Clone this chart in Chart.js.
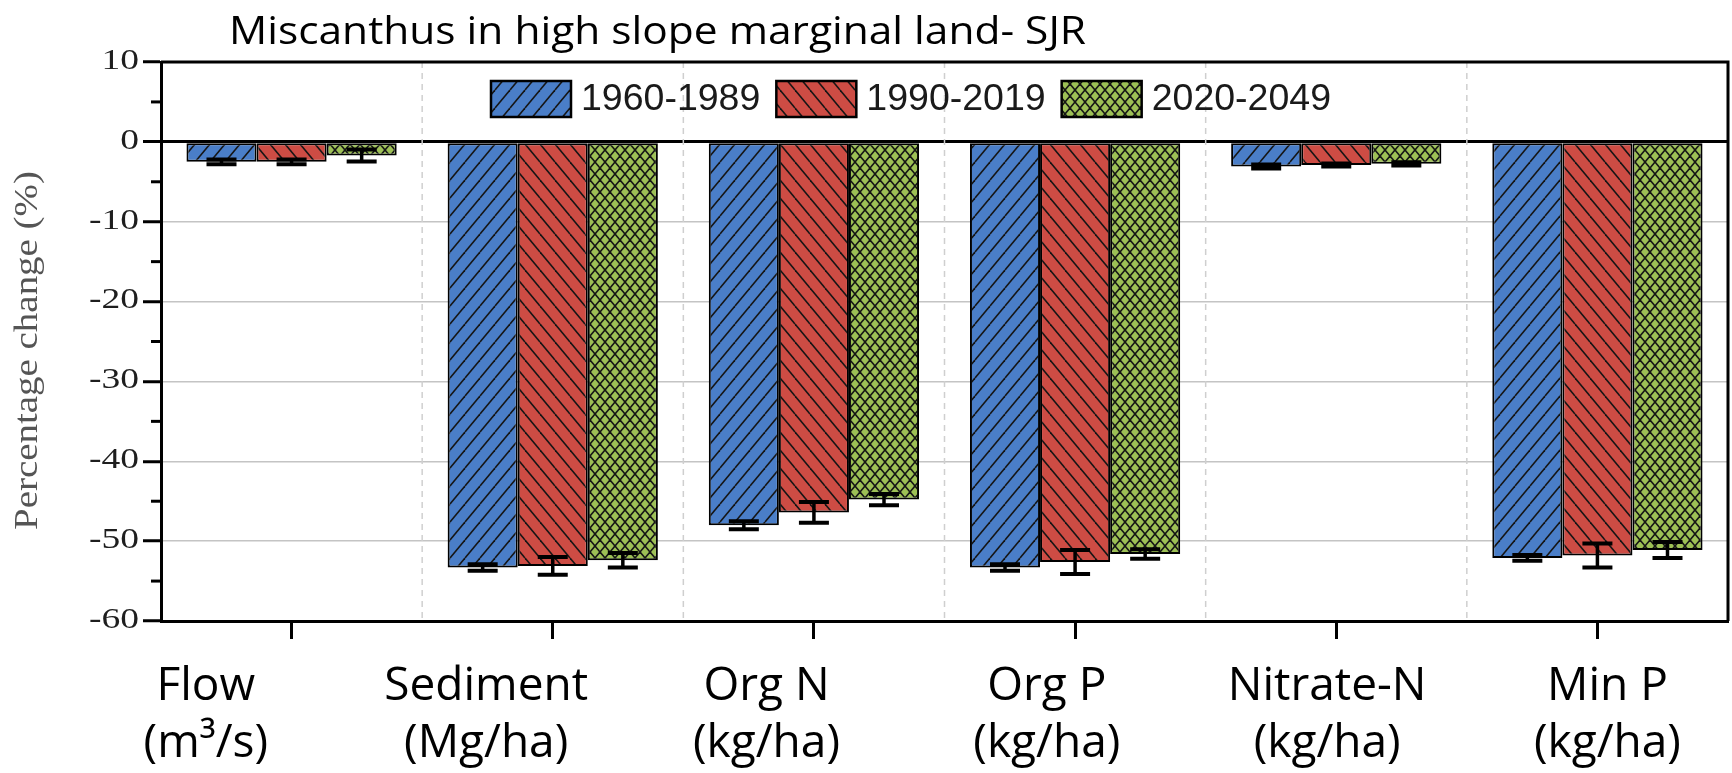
<!DOCTYPE html>
<html>
<head>
<meta charset="utf-8">
<style>
  html, body { margin: 0; padding: 0; background: #fff; }
  #wrap { width: 1732px; height: 773px; position: relative; }
</style>
<script src="https://cdn.jsdelivr.net/npm/chart.js@4.4.1/dist/chart.umd.min.js"></script>
</head>
<body>
<div id="wrap"><canvas id="c" width="1732" height="773"></canvas></div>
<script>
// ---- data ----
const chartTitle = 'Miscanthus in high slope marginal land- SJR';
const yAxisTitle = 'Percentage change (%)';
const categories = [
  ['Flow', '(m³/s)'],
  ['Sediment', '(Mg/ha)'],
  ['Org N', '(kg/ha)'],
  ['Org P', '(kg/ha)'],
  ['Nitrate-N', '(kg/ha)'],
  ['Min P', '(kg/ha)']
];
const periods = ['1960-1989', '1990-2019', '2020-2049'];
const change1960 = [-2.5, -53.3, -48.0, -53.3, -3.1, -52.1];
const change1990 = [-2.5, -53.1, -46.4, -52.6, -2.9, -51.8];
const change2020 = [-1.7, -52.4, -44.8, -51.6, -2.75, -51.1];
const err1960 = [0.3, 0.4, 0.5, 0.4, 0.25, 0.35];
const err1990 = [0.3, 1.1, 1.3, 1.5, 0.2, 1.5];
const err2020 = [0.75, 0.9, 0.7, 0.6, 0.2, 1.0];
const yMin = -60, yMax = 10, yStep = 10, yMinorStep = 5;

// the category captions sit on their own evenly spaced row, a little
// wider-pitched than the bar groups
const captionAxisMin = -0.16, captionAxisMax = 5.43;

// ---- hatch fills ----
const mainCtx = document.getElementById('c').getContext('2d');
function hatch(bg, dirs, w, h) {
  const t = document.createElement('canvas');
  t.width = w; t.height = h;
  const g = t.getContext('2d');
  g.fillStyle = bg; g.fillRect(0, 0, w, h);
  g.strokeStyle = '#161616'; g.lineWidth = 1.6;
  dirs.forEach(d => {
    for (let k = -1; k <= 1; k++) {
      g.beginPath();
      if (d === '/') { g.moveTo(k * w, h); g.lineTo(k * w + w, 0); }
      else { g.moveTo(k * w, 0); g.lineTo(k * w + w, h); }
      g.stroke();
    }
  });
  return mainCtx.createPattern(t, 'repeat');
}
const fillBlue = hatch('#4a7ec8', ['/'], 15, 18);
const fillRed = hatch('#cd4c44', ['\\'], 15, 18);
const fillGreen = hatch('#9dc055', ['/', '\\'], 10, 12);

// ---- plugins ----
const textPlugin = {
  id: 'textLayer',
  afterDraw(chart) {
    const ctx = chart.ctx, a = chart.chartArea, y = chart.scales.y;

    // chart heading, stretched to its set width
    ctx.save();
    ctx.font = '38px "Open Sans"';
    ctx.fillStyle = '#000';
    ctx.textBaseline = 'alphabetic';
    const tw = ctx.measureText(chartTitle).width;
    ctx.translate(a.left + 68, 44);
    ctx.scale(857 / tw, 1);
    ctx.fillText(chartTitle, 0, 0);
    ctx.restore();

    // y tick labels (wide serif digits)
    ctx.save();
    ctx.font = '30px "Liberation Serif"';
    ctx.fillStyle = '#1e1e1e';
    ctx.textAlign = 'right';
    ctx.textBaseline = 'middle';
    y.ticks.forEach(t => {
      const py = y.getPixelForValue(t.value);
      ctx.save();
      ctx.translate(a.left - 22, py - 1);
      ctx.scale(1.25, 1);
      ctx.fillText(String(t.value), 0, 0);
      ctx.restore();
    });
    ctx.restore();

    // rotated y axis title
    ctx.save();
    ctx.font = '33px "Liberation Serif"';
    ctx.fillStyle = '#555';
    const lw = ctx.measureText(yAxisTitle).width;
    ctx.translate(28, (a.top + a.bottom) / 2 + 9);
    ctx.rotate(-Math.PI / 2);
    ctx.scale(359 / lw, 1);
    ctx.textAlign = 'center';
    ctx.textBaseline = 'middle';
    ctx.fillText(yAxisTitle, 0, 0);
    ctx.restore();
  }
};

const separators = {
  id: 'separators',
  beforeDatasetsDraw(chart) {
    const ctx = chart.ctx, x = chart.scales.x, a = chart.chartArea;
    ctx.save();
    ctx.strokeStyle = '#cfcfcf';
    ctx.lineWidth = 1.5;
    ctx.setLineDash([6, 5]);
    for (let i = 0; i < categories.length - 1; i++) {
      const px = (x.getPixelForValue(i) + x.getPixelForValue(i + 1)) / 2;
      ctx.beginPath(); ctx.moveTo(px, a.top); ctx.lineTo(px, a.bottom); ctx.stroke();
    }
    ctx.restore();
  }
};

const errorBars = {
  id: 'errorBars',
  afterDatasetsDraw(chart) {
    const ctx = chart.ctx, y = chart.scales.y;
    ctx.save();
    ctx.strokeStyle = '#000';
    chart.data.datasets.forEach((ds, di) => {
      const meta = chart.getDatasetMeta(di);
      meta.data.forEach((bar, i) => {
        const v = ds.data[i], e = ds.errors[i];
        const y1 = y.getPixelForValue(v + e), y2 = y.getPixelForValue(v - e);
        const cx = bar.x, half = 15;
        ctx.lineWidth = 3.5;
        ctx.beginPath(); ctx.moveTo(cx, y1); ctx.lineTo(cx, y2); ctx.stroke();
        ctx.lineWidth = 4;
        ctx.beginPath();
        ctx.moveTo(cx - half, y1); ctx.lineTo(cx + half, y1);
        ctx.moveTo(cx - half, y2); ctx.lineTo(cx + half, y2);
        ctx.stroke();
      });
    });
    ctx.restore();
  }
};

const frameAndMinor = {
  id: 'frameAndMinor',
  afterDatasetsDraw(chart) {
    const ctx = chart.ctx, a = chart.chartArea, y = chart.scales.y;
    ctx.save();
    ctx.strokeStyle = '#000';
    ctx.lineWidth = 3;
    ctx.beginPath();
    ctx.moveTo(a.left, a.top); ctx.lineTo(a.right, a.top); ctx.lineTo(a.right, a.bottom);
    ctx.stroke();
    for (let v = yMin + yMinorStep; v < yMax; v += yMinorStep) {
      if (v % yStep === 0) continue;
      const py = y.getPixelForValue(v);
      ctx.beginPath(); ctx.moveTo(a.left - 10, py); ctx.lineTo(a.left, py); ctx.stroke();
    }
    ctx.restore();
  }
};

const legendPlugin = {
  id: 'insideLegend',
  afterDatasetsDraw(chart) {
    const ctx = chart.ctx, a = chart.chartArea;
    ctx.save();
    ctx.font = '37.5px "Liberation Sans"';
    ctx.textBaseline = 'middle';
    let x = a.left + 330;
    const top = a.top + 19, bw = 80, bh = 36;
    chart.data.datasets.forEach(ds => {
      ctx.fillStyle = ds.backgroundColor;
      ctx.fillRect(x, top, bw, bh);
      ctx.strokeStyle = '#000'; ctx.lineWidth = 2.5;
      ctx.strokeRect(x, top, bw, bh);
      x += bw + 10;
      ctx.fillStyle = '#1a1a1a';
      ctx.fillText(ds.label, x, top + bh / 2 + 1);
      x += ctx.measureText(ds.label).width + 16;
    });
    ctx.restore();
  }
};

// ---- chart ----
const seriesValues = [change1960, change1990, change2020];
const seriesErrors = [err1960, err1990, err2020];
const seriesFills = [fillBlue, fillRed, fillGreen];

new Chart(document.getElementById('c'), {
  type: 'bar',
  data: {
    labels: categories,
    datasets: periods.map((p, i) => ({
      label: p,
      data: seriesValues[i],
      errors: seriesErrors[i],
      backgroundColor: seriesFills[i],
      borderColor: '#000',
      borderWidth: 2,
      borderSkipped: false,
      categoryPercentage: 0.805,
      barPercentage: 1.0
    }))
  },
  options: {
    responsive: false,
    animation: false,
    devicePixelRatio: 1,
    layout: { padding: { left: 0, top: 62, right: 4, bottom: 0 } },
    plugins: { legend: { display: false }, tooltip: { enabled: false }, title: { display: false } },
    scales: {
      x: {
        weight: 0,
        grid: { drawOnChartArea: false, offset: false, tickLength: 18, tickWidth: 3, tickColor: '#000' },
        border: { display: true, color: '#000', width: 3 },
        ticks: { display: false },
        afterFit(s) { s.height = 18; }
      },
      caption: {
        type: 'linear',
        position: 'bottom',
        weight: 1,
        offset: false,
        min: captionAxisMin, max: captionAxisMax,
        grid: { display: false, drawTicks: false, offset: false },
        border: { display: false },
        ticks: {
          stepSize: 1,
          includeBounds: false,
          font: { family: '"Open Sans"', size: 46, lineHeight: 1.24 },
          color: '#000', padding: 19, maxRotation: 0, autoSkip: false,
          callback: v => {
            const r = Math.round(v);
            return (Math.abs(v - r) < 1e-6 && categories[r]) ? categories[r] : '';
          }
        },
        afterFit(s) { s.height = 134; }
      },
      y: {
        min: yMin, max: yMax,
        ticks: { stepSize: yStep, display: false },
        grid: {
          color: c => (c.tick && c.tick.value === 0) ? '#000'
                    : (c.tick && (c.tick.value === yMax || c.tick.value === yMin)) ? 'rgba(0,0,0,0)' : '#c4c4c4',
          lineWidth: c => (c.tick && c.tick.value === 0) ? 3 : 1.5,
          tickColor: '#000', tickWidth: 3, tickLength: 18
        },
        border: { display: true, color: '#000', width: 3 },
        afterFit(s) { s.width = 161; }
      }
    }
  },
  plugins: [separators, errorBars, frameAndMinor, legendPlugin, textPlugin]
});
</script>
</body>
</html>
